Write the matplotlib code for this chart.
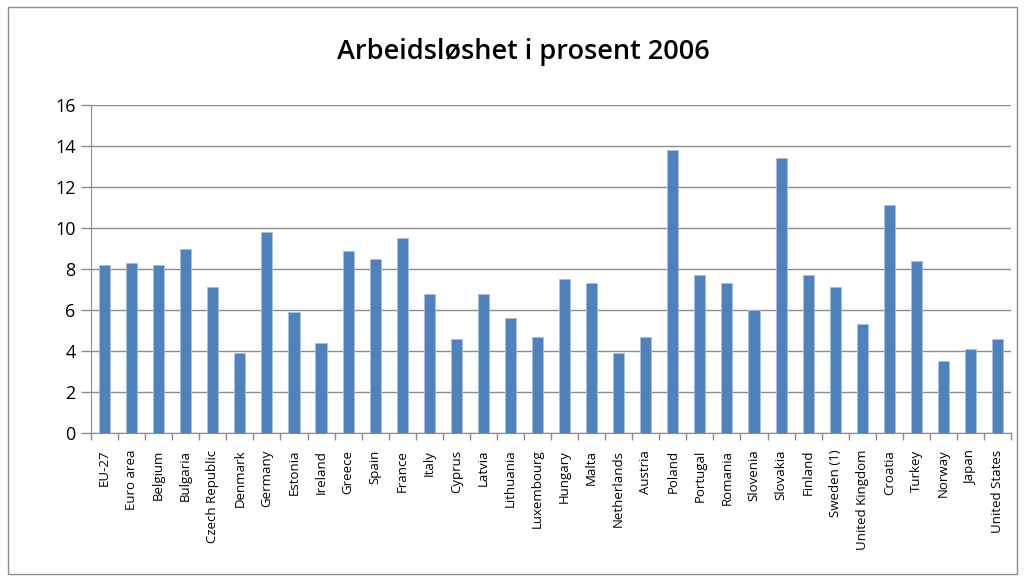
import matplotlib.pyplot as plt
from matplotlib.patches import Rectangle
from matplotlib.ticker import FixedLocator

countries = [
    "EU-27", "Euro area", "Belgium", "Bulgaria", "Czech Republic", "Denmark",
    "Germany", "Estonia", "Ireland", "Greece", "Spain", "France", "Italy",
    "Cyprus", "Latvia", "Lithuania", "Luxembourg", "Hungary", "Malta",
    "Netherlands", "Austria", "Poland", "Portugal", "Romania", "Slovenia",
    "Slovakia", "Finland", "Sweden (1)", "United Kingdom", "Croatia", "Turkey",
    "Norway", "Japan", "United States",
]
unemployment = [
    8.2, 8.3, 8.2, 9.0, 7.1, 3.9,
    9.8, 5.9, 4.4, 8.9, 8.5, 9.5, 6.8,
    4.6, 6.8, 5.6, 4.7, 7.5, 7.3,
    3.9, 4.7, 13.8, 7.7, 7.3, 6.0,
    13.4, 7.7, 7.1, 5.3, 11.1, 8.4,
    3.5, 4.1, 4.6,
]
yticks = [0, 2, 4, 6, 8, 10, 12, 14, 16]

FONT = ["Open Sans", "DejaVu Sans"]
BAR = "#4F81BD"
GRID = "#8C8C8C"

fig = plt.figure(figsize=(10.25, 5.81), dpi=100)
ax = fig.add_axes([0.0888, 0.2547, 0.8976, 0.5646])

x = list(range(len(countries)))
ax.bar(x, unemployment, width=0.41, color=BAR, edgecolor="#A7C0DE",
       linewidth=0.6, zorder=3)

ax.set_xlim(-0.5, len(countries) - 0.5)
ax.set_ylim(0, 16)
ax.set_yticks(yticks)
ax.set_yticklabels([str(t) for t in yticks], fontsize=13, family=FONT)
ax.yaxis.grid(True, color=GRID, linewidth=1.0, zorder=0)
ax.tick_params(axis="y", length=7, color=GRID, width=1.0, pad=4)

ax.set_xticks(x)
ax.set_xticklabels(countries, rotation=90, fontsize=9.5, family=FONT, va="top")
ax.tick_params(axis="x", which="major", length=0, pad=12)
ax.xaxis.set_minor_locator(FixedLocator([i - 0.5 for i in range(len(countries) + 1)]))
ax.tick_params(axis="x", which="minor", length=5, color=GRID, width=1.0)

for side in ("top", "right"):
    ax.spines[side].set_visible(False)
ax.spines["left"].set_color(GRID)
ax.spines["bottom"].set_color(GRID)

fig.text(0.511, 0.91, "Arbeidsløshet i prosent 2006", ha="center", va="center",
         fontsize=19.5, fontweight="semibold", family=FONT)

fig.patches.append(Rectangle((0.008, 0.012), 0.984, 0.976, transform=fig.transFigure,
                             fill=False, edgecolor="#8C8C8C", linewidth=1.0))

fig.savefig("out.png", dpi=100, facecolor="white")
